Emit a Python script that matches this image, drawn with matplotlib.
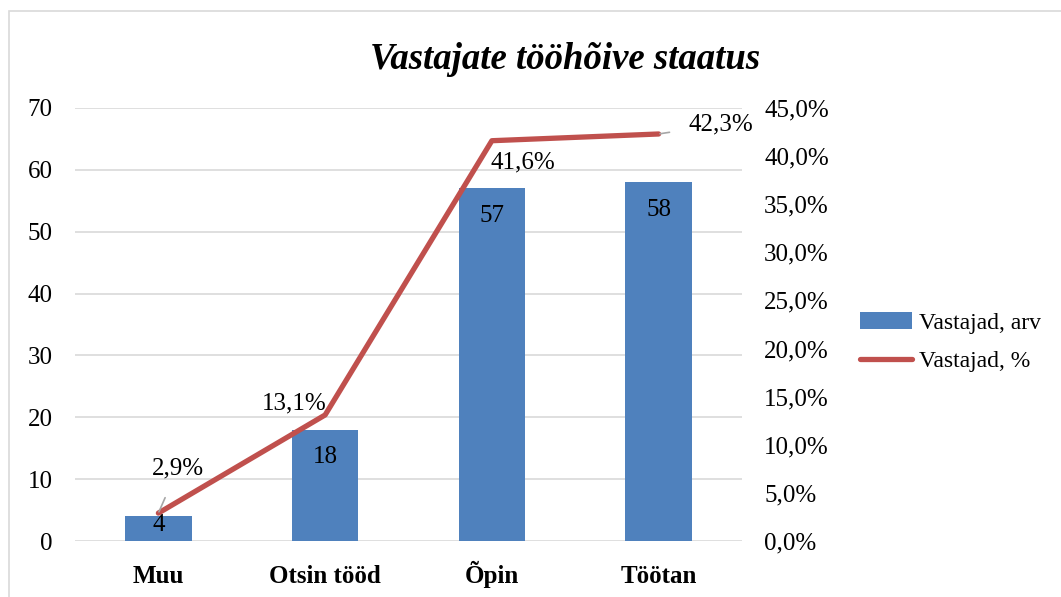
import matplotlib.pyplot as plt
from matplotlib.patches import Rectangle
from matplotlib.ticker import FuncFormatter, MultipleLocator
import numpy as np

plt.rcParams["font.family"] = ["Liberation Serif", "DejaVu Serif"]

categories = ["Muu", "Otsin tööd", "Õpin", "Töötan"]
counts = [4, 18, 57, 58]
percents = [2.9, 13.1, 41.6, 42.3]

bar_color = "#4F81BD"
line_color = "#C0504D"
grid_color = "#D9D9D9"


def pct(v):
    return f"{v:.1f}%".replace(".", ",")


fig = plt.figure(figsize=(10.61, 5.97), dpi=100)
fig.patches.append(Rectangle((9 / 1061, -0.1), 2, 1.1 - 11 / 597, transform=fig.transFigure,
                             fill=False, edgecolor=grid_color, linewidth=1.2))

ax = fig.add_axes([75 / 1061, 56 / 597, 667 / 1061, 433 / 597])
x = np.arange(len(categories))
bars = ax.bar(x, counts, width=0.4, color=bar_color, zorder=2, label="Vastajad, arv")
ax.set_xlim(-0.5, len(categories) - 0.5)
ax.set_ylim(0, 70)
ax.yaxis.set_major_locator(MultipleLocator(10))
ax.grid(axis="y", color=grid_color, linewidth=1.2, zorder=0)
ax.set_axisbelow(True)
for s in ax.spines.values():
    s.set_visible(False)
ax.tick_params(axis="both", length=0, labelsize=18)
ax.tick_params(axis="y", pad=16)
ax.set_xticks(x)
ax.set_xticklabels(categories, fontweight="bold", fontsize=18)
ax.tick_params(axis="x", pad=30)
for lbl in ax.get_xticklabels():
    lbl.set_verticalalignment("baseline")

# bar labels
for xi, v in zip(x, counts):
    if v > 8:
        ax.annotate(str(v), (xi, v), xytext=(0, -12), textcoords="offset points",
                    ha="center", va="top", fontsize=18, zorder=4)
    else:
        ax.annotate(str(v), (xi, v), xytext=(0, -6), textcoords="offset points",
                    ha="center", va="center", fontsize=18, zorder=4)

ax2 = ax.twinx()
ax2.set_ylim(0, 45)
ax2.yaxis.set_major_locator(MultipleLocator(5))
ax2.yaxis.set_major_formatter(FuncFormatter(lambda v, _: pct(v)))
for s in ax2.spines.values():
    s.set_visible(False)
ax2.tick_params(axis="y", length=0, labelsize=18, pad=16)
line, = ax2.plot(x, percents, color=line_color, linewidth=3.8, solid_capstyle="round",
                 label="Vastajad, %", zorder=3)

# line labels with Excel-like placement
offsets = [(14, 32), (-22, 8), (22, -16), (45, 7)]
leaders = [True, False, False, True]
for xi, v, (dx, dy), lead in zip(x, percents, offsets, leaders):
    ax2.annotate(pct(v), (xi, v), xytext=(dx, dy), textcoords="offset points",
                 ha="center", va="center", fontsize=18, zorder=5,
                 arrowprops=dict(arrowstyle="-", color="#A6A6A6", lw=1.2,
                                 shrinkA=12, shrinkB=1) if lead else None)

ax.set_title("Vastajate tööhõive staatus", fontsize=26.5, fontweight="bold",
             fontstyle="italic", x=(565 - 75) / 667, pad=28)

fig.legend(handles=[bars, line], loc="center left", bbox_to_anchor=(860 / 1061, 1 - 342 / 597),
           frameon=False, fontsize=17, handlelength=2.2, handletextpad=0.3, labelspacing=0.7,
           borderaxespad=0, borderpad=0)

fig.savefig("out.png", dpi=100)
